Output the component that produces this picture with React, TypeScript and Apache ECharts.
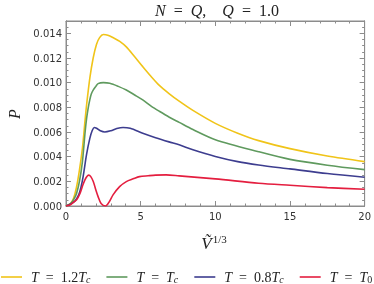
import React, { useEffect, useRef } from "react";
import * as echarts from "echarts";

// ---- data ----
const xTicks = [0, 5, 10, 15, 20];
const yTickLabels = ["0.000", "0.002", "0.004", "0.006", "0.008", "0.010", "0.012", "0.014"];

const seriesNames = ["T = 1.2Tc", "T = Tc", "T = 0.8Tc", "T = T0"];
const seriesColors = ["#F0C419", "#5F9A5E", "#3D3D8F", "#E41E3F"];

const yellowX = [0, 0.3, 0.5, 0.7, 0.9, 1.1, 1.28, 1.38, 1.6, 1.82, 2.04, 2.25, 2.5, 2.8, 3.2, 3.6, 4.04, 4.6, 5.14, 5.7, 6.25, 6.92, 7.58, 8.5, 10, 11.5, 12.9, 15, 17.5, 20];
const yellowP = [0, 0.0002, 0.0006, 0.0015, 0.0029, 0.0047, 0.007, 0.0082, 0.0104, 0.012, 0.0131, 0.01365, 0.0139, 0.01385, 0.01362, 0.01335, 0.0129, 0.0121, 0.0113, 0.0105, 0.00978, 0.0091, 0.0085, 0.00775, 0.0067, 0.0059, 0.0053, 0.00465, 0.00405, 0.0036];

const greenX = [0, 0.3, 0.5, 0.7, 0.9, 1.1, 1.28, 1.38, 1.48, 1.6, 1.7, 1.82, 2.0, 2.15, 2.5, 2.93, 3.5, 4.04, 4.6, 5.14, 5.7, 6.25, 6.92, 7.58, 8.5, 10, 12.9, 15, 17.5, 20];
const greenP = [0, 0.0002, 0.0005, 0.001, 0.002, 0.0036, 0.006, 0.0071, 0.0079, 0.00865, 0.0091, 0.0094, 0.0097, 0.00992, 0.01, 0.00995, 0.0097, 0.0094, 0.009, 0.0086, 0.0081, 0.00768, 0.0072, 0.00678, 0.0062, 0.00538, 0.0044, 0.00378, 0.00331, 0.00295];

const blueX = [0, 0.3, 0.6, 0.85, 1.0, 1.15, 1.38, 1.6, 1.75, 1.89, 2.05, 2.3, 2.6, 3.0, 3.4, 3.82, 4.3, 5.14, 6.0, 6.9, 7.58, 8.5, 10, 11.5, 12.9, 15, 17.5, 20];
const blueP = [0, 0.00015, 0.0004, 0.0009, 0.0015, 0.0024, 0.0042, 0.0055, 0.0061, 0.00637, 0.0063, 0.0061, 0.006, 0.0061, 0.00628, 0.00637, 0.0063, 0.0059, 0.00554, 0.0052, 0.00496, 0.00456, 0.00402, 0.0036, 0.00333, 0.00301, 0.00263, 0.00233];

const redX = [0, 0.3, 0.5, 0.71, 0.93, 1.1, 1.26, 1.4, 1.52, 1.65, 1.82, 2.0, 2.15, 2.35, 2.65, 2.9, 3.15, 3.59, 4.04, 4.5, 4.92, 5.5, 6.0, 6.7, 7.58, 10, 12.9, 15, 17.5, 20];
const redP = [0, 0.0001, 0.0003, 0.0005, 0.001, 0.0016, 0.0021, 0.0024, 0.0025, 0.0024, 0.002, 0.0013, 0.00076, 0.0002, 0.0, 0.00035, 0.0009, 0.00157, 0.00198, 0.0022, 0.00238, 0.00245, 0.0025, 0.00252, 0.00244, 0.0022, 0.00185, 0.00168, 0.00149, 0.00136];

const seriesX = [yellowX, greenX, blueX, redX];
const seriesP = [yellowP, greenP, blueP, redP];

const legendRich: Record<string, string> = {
  "T = 1.2Tc": "{i|T}{r|\u2002=\u20021.2}{i|T}{s|c}",
  "T = Tc": "{i|T}{r|\u2002=\u2002}{i|T}{s|c}",
  "T = 0.8Tc": "{i|T}{r|\u2002=\u20020.8}{i|T}{s|c}",
  "T = T0": "{i|T}{r|\u2002=\u2002}{i|T}{s0|0}",
};

const SERIF = "Liberation Serif, DejaVu Serif, serif";
const SANS = "DejaVu Sans, sans-serif";
const FRAME = "#8c8c8c";

function tick(len: number) {
  return { show: true, inside: true, length: len, lineStyle: { color: FRAME, width: 1 } };
}

export default function App() {
  const ref = useRef<HTMLDivElement>(null);
  useEffect(() => {
    if (!ref.current) return;
    const chart = echarts.init(ref.current, undefined, { renderer: "svg" });

    const xAxisOf = (position: "top" | "bottom", labels: boolean) => ({
      type: "value",
      position,
      min: 0,
      max: 20,
      interval: 5,
      splitLine: { show: false },
      axisLine: { show: true, onZero: false, lineStyle: { color: FRAME, width: 1 } },
      axisTick: tick(5),
      minorTick: { show: true, splitNumber: 5, length: 2.5, lineStyle: { color: FRAME, width: 1 } },
      axisLabel: labels
        ? {
            show: true,
            margin: 5,
            color: "#333",
            fontFamily: SANS,
            fontSize: 10,
            formatter: (v: number) => (xTicks.includes(v) ? String(v) : ""),
          }
        : { show: false },
    });
    const yAxisOf = (position: "left" | "right", interval: number, len: number, labels: boolean) => ({
      type: "value",
      position,
      min: 0,
      max: 0.015,
      interval,
      splitLine: { show: false },
      axisLine: { show: true, onZero: false, lineStyle: { color: FRAME, width: 1 } },
      axisTick: tick(len),
      axisLabel: labels
        ? {
            show: true,
            showMaxLabel: false,
            margin: 4,
            color: "#333",
            fontFamily: SANS,
            fontSize: 10,
            formatter: (v: number) => yTickLabels[Math.round(v / 0.002)] ?? "",
          }
        : { show: false },
    });

    chart.setOption({
      animation: false,
      grid: { left: 66, right: 7, top: 21, bottom: 78, show: true, borderColor: FRAME, borderWidth: 1 },
      xAxis: [xAxisOf("bottom", true), xAxisOf("top", false)],
      yAxis: [
        yAxisOf("left", 0.002, 5, true),
        yAxisOf("left", 0.0005, 2.5, false),
        yAxisOf("right", 0.002, 5, false),
        yAxisOf("right", 0.0005, 2.5, false),
      ],
      legend: {
        top: 269.5,
        left: 1,
        padding: 0,
        icon: "rect",
        itemWidth: 21,
        itemHeight: 1.6,
        itemGap: 16,
        data: seriesNames,
        formatter: (name: string) => legendRich[name] ?? name,
        textStyle: {
          padding: [0, 0, 0, 4],
          color: "#222",
          fontFamily: SERIF,
          fontSize: 14,
          lineHeight: 14,
          rich: {
            i: { fontFamily: SERIF, fontStyle: "italic", fontSize: 14, lineHeight: 14, color: "#222" },
            r: { fontFamily: SERIF, fontSize: 14, lineHeight: 14, color: "#222" },
            s: { fontFamily: SERIF, fontStyle: "italic", fontSize: 10, lineHeight: 14, color: "#222", padding: [5, 0, 0, 0] },
            s0: { fontFamily: SERIF, fontSize: 10, lineHeight: 14, color: "#222", padding: [5, 0, 0, 0] },
          },
        },
      },
      graphic: [
        {
          type: "text",
          x: 217,
          y: 10,
          style: {
            text: "{i|N}{r|\u2002=\u2002}{i|Q}{r|,\u2003}{i|Q}{r|\u2002=\u20021.0}",
            align: "center",
            verticalAlign: "middle",
            rich: {
              i: { fontFamily: SERIF, fontStyle: "italic", fontSize: 16, fill: "#222" },
              r: { fontFamily: SERIF, fontSize: 16, fill: "#222" },
            },
          },
        },
        {
          type: "text",
          x: 214,
          y: 243,
          style: {
            text: "{v|Ṽ}{s|1/3}",
            align: "center",
            verticalAlign: "middle",
            rich: {
              v: { fontFamily: SERIF, fontStyle: "italic", fontSize: 17, fill: "#222" },
              s: { fontFamily: SERIF, fontSize: 11, fill: "#222", padding: [0, 0, 9, 1] },
            },
          },
        },
        {
          type: "text",
          x: 14,
          y: 114,
          rotation: Math.PI / 2,
          style: {
            text: "P",
            align: "center",
            verticalAlign: "middle",
            fontFamily: SERIF,
            fontStyle: "italic",
            fontSize: 16,
            fill: "#222",
          },
        },
      ],
      series: seriesNames.map((name, k) => ({
        name,
        type: "line",
        xAxisIndex: 0,
        yAxisIndex: 0,
        data: seriesX[k].map((x, j) => [x, seriesP[k][j]]),
        smooth: 0.3,
        symbol: "none",
        showSymbol: false,
        clip: true,
        lineStyle: { color: seriesColors[k], width: 1.6 },
        itemStyle: { color: seriesColors[k] },
      })),
    });
    return () => chart.dispose();
  }, []);
  return <div ref={ref} style={{ position: "fixed", left: 0, top: 0, width: 374, height: 284 }} />;
}
